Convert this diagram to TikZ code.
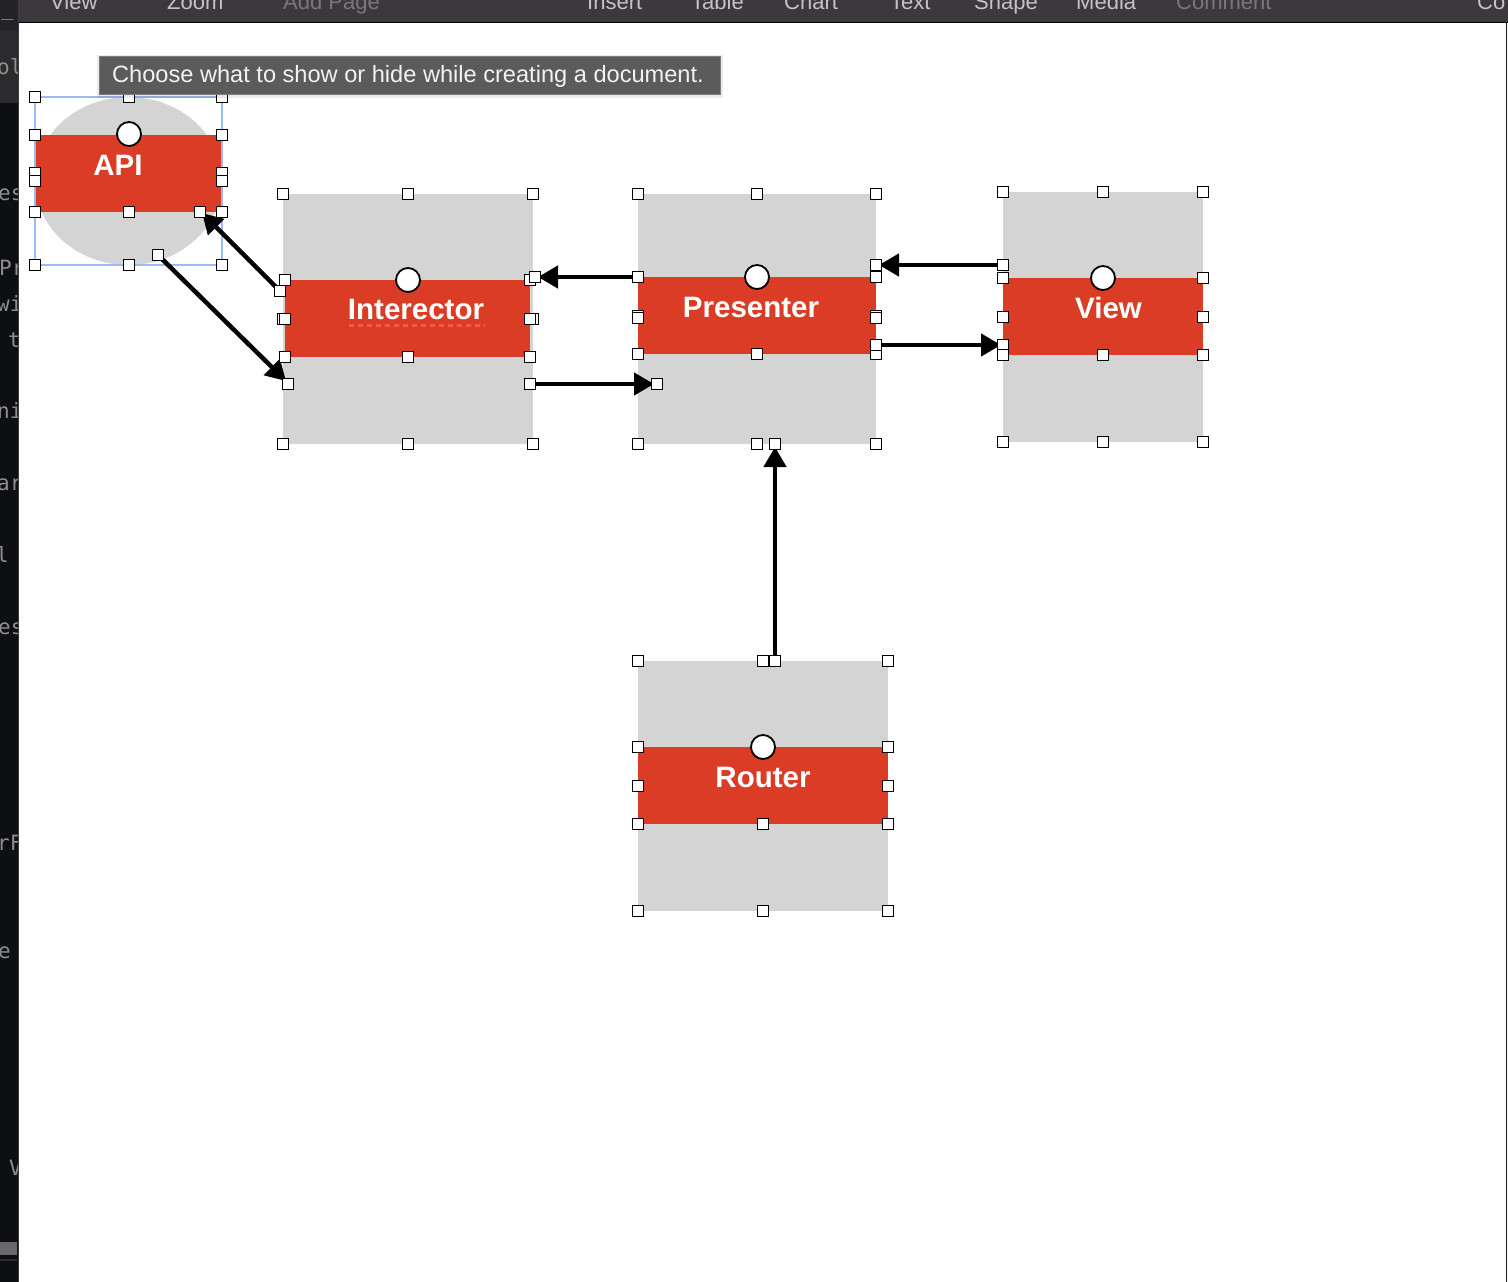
\documentclass[tikz,border=0pt]{standalone}
\usepackage{fontspec}
\setmainfont{Liberation Sans}
\newfontfamily\stripfont{DejaVu Sans Mono}
\usetikzlibrary{arrows.meta,shapes.geometric}
\definecolor{boxgrey}{HTML}{D4D4D4}
\definecolor{bandred}{HTML}{DA3C26}
\definecolor{barbg}{HTML}{3C383D}
\definecolor{bartext}{HTML}{C4C4C4}
\definecolor{bardim}{HTML}{7A777C}
\definecolor{stripbg}{HTML}{0E0F13}
\definecolor{striptop}{HTML}{2B2B2D}
\definecolor{stripcorner}{HTML}{242426}
\definecolor{striptext}{HTML}{8E8E8E}
\definecolor{scrollgrey}{HTML}{6A6A6C}
\definecolor{scrolldark}{HTML}{2A2A2C}
\definecolor{sepgrey}{HTML}{3A3A3C}
\definecolor{edgedark}{HTML}{1C1C1E}
\definecolor{tipbg}{HTML}{5B5B5B}
\definecolor{tipborder}{HTML}{7C7C7C}
\definecolor{tiptext}{HTML}{F2F2F2}
\definecolor{selblue}{HTML}{9DB9F5}
\definecolor{spellred}{HTML}{EE5C4C}
\begin{document}
\begin{tikzpicture}[x=1pt,y=-1pt,
  greybox/.style={rectangle,fill=boxgrey,draw=none,inner sep=0pt},
  bandbox/.style={rectangle,fill=bandred,draw=none,inner sep=0pt},
  lbl/.style={text=white,inner sep=0pt,anchor=base,font=\fontsize{29.5}{34}\selectfont\bfseries},
  hdl/.style={rectangle,fill=white,draw=black,line width=1.1pt,minimum size=11pt,inner sep=0pt},
  knob/.style={circle,fill=white,draw=black,line width=1.8pt,minimum size=24pt,inner sep=0pt},
  conn/.style={draw=black,line width=4.5pt,-{Triangle[length=20pt,width=22pt]}},
  bartxt/.style={text=bartext,inner sep=0pt,anchor=base west,font=\fontsize{22}{26}\selectfont},
  bardimtxt/.style={bartxt,text=bardim},
  striptxt/.style={text=striptext,inner sep=0pt,anchor=base west,font=\stripfont\fontsize{21}{25}\selectfont}]
\useasboundingbox (0,0) rectangle (1508,1282);
% ---- left strip ----
\fill[stripbg] (0,0) rectangle (18,1282);
\fill[stripcorner] (0,0) rectangle (18,30);
\fill[striptop] (0,30) rectangle (18,103);
\begin{scope}
\clip (0,0) rectangle (17.5,1282);
\node[striptxt] (s0) at (1,15) {\_\,I};
\node[striptxt] (s1) at (-3,74) {ol};
\node[striptxt] (s2) at (-2,200) {es};
\node[striptxt] (s3) at (-1,275) {Pr};
\node[striptxt] (s4) at (-3,311) {wi};
\node[striptxt] (s5) at (8,347) {t};
\node[striptxt] (s6) at (-3,418) {ni};
\node[striptxt] (s7) at (-3,490) {ar};
\node[striptxt] (s8) at (-4,562) {l};
\node[striptxt] (s9) at (-2,634) {es};
\node[striptxt] (s10) at (-3,850) {rF};
\node[striptxt] (s11) at (-2,958) {e};
\node[striptxt] (s12) at (9,1175) {V};
\end{scope}
\fill[scrollgrey] (0,1242) rectangle (17,1255);
\fill[scrolldark] (0,1259) rectangle (17,1261);
\draw[sepgrey,line width=1pt] (18,0) -- (18,1282);
% ---- page ----
\fill[white] (18.5,22) rectangle (1506,1282);
\draw[edgedark,line width=1.5pt] (1506.5,22) -- (1506.5,1282);
% ---- top bar ----
\fill[barbg] (18.5,0) rectangle (1508,22);
\begin{scope}
\clip (18.5,0) rectangle (1508,22);
\node[bartxt] (m1) at (50,9.5) {View};
\node[bartxt] (m2) at (167,9.5) {Zoom};
\node[bardimtxt] (m3) at (283,9.5) {Add Page};
\node[bartxt] (m4) at (587,9.5) {Insert};
\node[bartxt] (m5) at (691,9.5) {Table};
\node[bartxt] (m6) at (784,9.5) {Chart};
\node[bartxt] (m7) at (890,9.5) {Text};
\node[bartxt] (m8) at (974,9.5) {Shape};
\node[bartxt] (m9) at (1076,9.5) {Media};
\node[bardimtxt] (m10) at (1176,9.5) {Comment};
\node[bartxt] (m11) at (1477,9.5) {Co};
\end{scope}
\draw[black,line width=1.2pt] (18.5,22.3) -- (1508,22.3);
% ---- shapes ----
\node[ellipse,fill=boxgrey,draw=none,inner sep=0pt,minimum width=187pt,minimum height=168pt] (apiBg) at (128.5,181) {};
\node[bandbox,minimum width=187pt,minimum height=77pt] (apiBand) at (128.5,173) {};
\node[greybox,minimum width=250pt,minimum height=250pt] (intBg) at (408,319) {};
\node[bandbox,minimum width=245pt,minimum height=77pt] (intBand) at (407.5,318.5) {};
\node[greybox,minimum width=238pt,minimum height=250pt] (presBg) at (757,319) {};
\node[bandbox,minimum width=238pt,minimum height=77pt] (presBand) at (757,315.5) {};
\node[greybox,minimum width=200pt,minimum height=250pt] (viewBg) at (1103,317) {};
\node[bandbox,minimum width=200pt,minimum height=77pt] (viewBand) at (1103,316.5) {};
\node[greybox,minimum width=250pt,minimum height=250pt] (routerBg) at (763,786) {};
\node[bandbox,minimum width=250pt,minimum height=77pt] (routerBand) at (763,785.5) {};
% labels
\node[lbl] (apiT) at (118,175) {API};
\node[lbl] (intT) at (416,319) {Interector};
\node[lbl] (presT) at (751,317) {Presenter};
\node[lbl] (viewT) at (1108.5,318) {View};
\node[lbl] (routerT) at (763,787) {Router};
\draw[spellred,line width=3pt,dash pattern=on 5pt off 4pt] (349,325) -- (485,325);
% selection frame of API
\draw[selblue,line width=1.6pt] (35,97) rectangle (222,265);
% ---- connector end points ----
\coordinate (i2aS) at (280,291);
\coordinate (i2aE) at (202,213);
\coordinate (a2iS) at (159,256);
\coordinate (a2iE) at (286,381);
\coordinate (p2iS) at (638,277);
\coordinate (p2iE) at (538,277);
\coordinate (i2pS) at (530,384);
\coordinate (i2pE) at (654,384);
\coordinate (v2pS) at (1003,265);
\coordinate (v2pE) at (879,265);
\coordinate (p2vS) at (876,345);
\coordinate (p2vE) at (1001,345);
\coordinate (r2pS) at (775,661);
\coordinate (r2pE) at (775,447);
\draw[conn] (i2aS) -- (i2aE);
\draw[conn] (a2iS) -- (a2iE);
\draw[conn] (p2iS) -- (p2iE);
\draw[conn] (i2pS) -- (i2pE);
\draw[conn] (v2pS) -- (v2pE);
\draw[conn] (p2vS) -- (p2vE);
\draw[conn] (r2pS) -- (r2pE);
% ---- handles ----
\foreach \hx/\hy [count=\i] in {
 35/97,129/97,222/97,35/135,222/135,35/173,35/181,222/173,222/181,35/212,129/212,222/212,35/265,129/265,222/265,200/212,158/255,
 283/194,408/194,533/194,285/280,530/280,535/277,280/291,283/319,285/319,533/319,530/319,285/357,408/357,530/357,288/384,530/384,283/444,408/444,533/444,
 638/194,757/194,876/194,638/277,876/277,876/265,638/316,638/318,876/316,876/318,638/354,757/354,876/354,876/345,657/384,638/444,757/444,775/444,876/444,
 1003/192,1103/192,1203/192,1003/265,1003/278,1203/278,1003/317,1203/317,1003/345,1003/355,1103/355,1203/355,1003/442,1103/442,1203/442,
 638/661,763/661,775/661,888/661,638/747,888/747,638/786,888/786,638/824,763/824,888/824,638/911,763/911,888/911}
 \node[hdl] (h\i) at (\hx,\hy) {};
% knobs
\node[knob] (apiK) at (129,134) {};
\node[knob] (intK) at (408,280) {};
\node[knob] (presK) at (757,277) {};
\node[knob] (viewK) at (1103,278) {};
\node[knob] (routerK) at (763,747) {};
% ---- tooltip ----
\fill[black,opacity=0.08] (97,55) rectangle (723,98);
\node[rectangle,fill=tipbg,draw=tipborder,line width=1pt,minimum width=621pt,minimum height=38pt,inner sep=0pt] (tipBox) at (409.5,75) {};
\node[text=tiptext,inner sep=0pt,anchor=base,font=\fontsize{23.6}{28}\selectfont] (tipT) at (408,82.5) {Choose what to show or hide while creating a document.};
\end{tikzpicture}
\end{document}
